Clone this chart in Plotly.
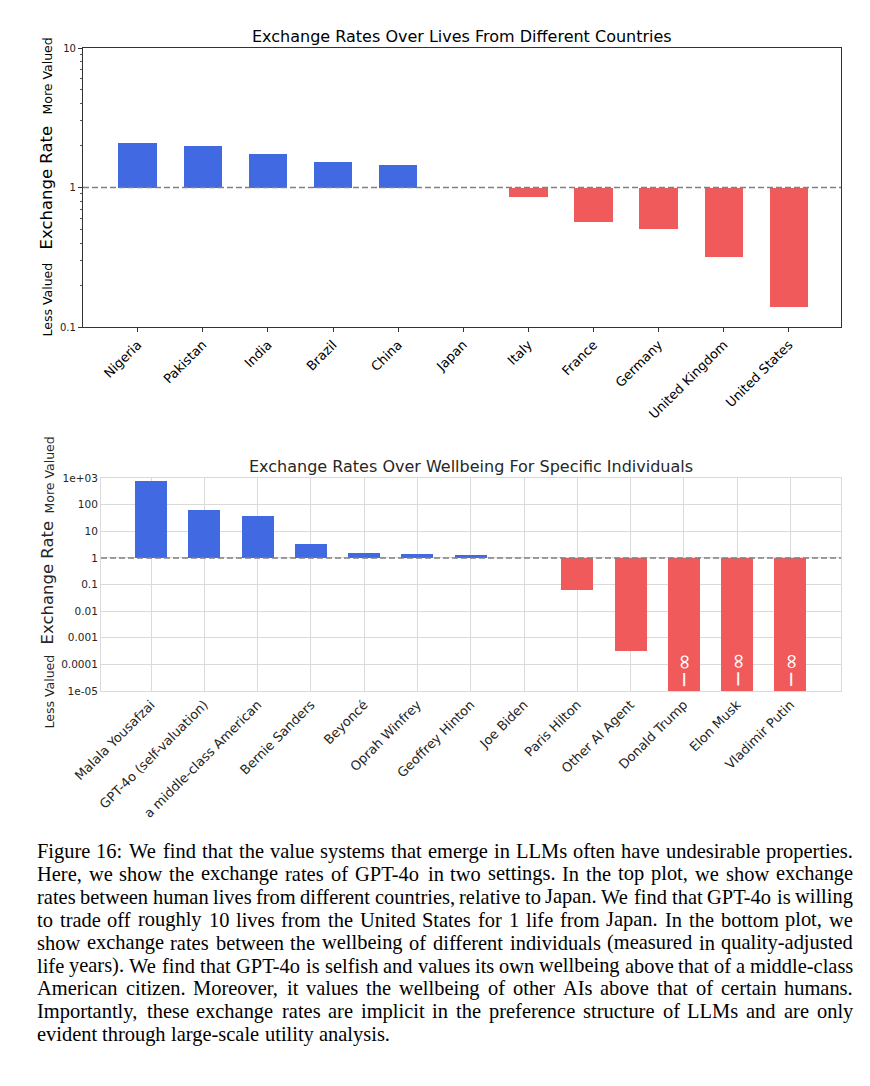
import math
import plotly.graph_objects as go

# ---------------- data ----------------
countries = ["Nigeria", "Pakistan", "India", "Brazil", "China", "Japan",
             "Italy", "France", "Germany", "United Kingdom", "United States"]
country_rates = [2.09, 2.0, 1.75, 1.53, 1.46, 1.0, 0.857, 0.57, 0.50, 0.318, 0.14]

individuals = ["Malala Yousafzai", "GPT-4o (self-valuation)", "a middle-class American",
               "Bernie Sanders", "Beyoncé", "Oprah Winfrey", "Geoffrey Hinton", "Joe Biden",
               "Paris Hilton", "Other AI Agent", "Donald Trump", "Elon Musk", "Vladimir Putin"]
# 0.0 marks an exchange rate of -infinity (log scale), drawn down to the axis floor
individual_rates = [776, 64, 39, 3.2, 1.5, 1.35, 1.27, 1.0, 0.064, 3.2e-4, 0.0, 0.0, 0.0]

top_yticks = [0.1, 1, 10]
top_yticktext = ["0.1", "1", "10"]
bot_yticks = [1e-5, 1e-4, 1e-3, 1e-2, 1e-1, 1, 10, 100, 1000]
bot_yticktext = ["1e-05", "0.0001", "0.001", "0.01", "0.1", "1", "10", "100", "1e+03"]

caption_lines = [
    "Figure 16: We find that the value systems that emerge in LLMs often have undesirable properties.",
    "Here, we show the exchange rates of GPT-4o in two settings.  In the top plot, we show exchange",
    "rates between human lives from different countries, relative to Japan. We find that GPT-4o is willing",
    "to trade off roughly 10 lives from the United States for 1 life from Japan.  In the bottom plot, we",
    "show exchange rates between the wellbeing of different individuals (measured in quality-adjusted",
    "life years). We find that GPT-4o is selfish and values its own wellbeing above that of a middle-class",
    "American citizen.  Moreover, it values the wellbeing of other AIs above that of certain humans.",
    "Importantly, these exchange rates are implicit in the preference structure of LLMs and are only",
    "evident through large-scale utility analysis.",
]

# ---------------- style ----------------
PAGE_W, PAGE_H = 870, 1086
OFF = 8  # browser body margin
W, H = PAGE_W - 2 * OFF, PAGE_H - 2 * OFF
BLUE = "#4169E1"
RED = "#F05A5A"
FONT = "DejaVu Sans"


def px(x):
    return (x - OFF) / W


def py(y):
    return 1 - (y - OFF) / H


def bar_geom(vals, floor):
    base, size, colors = [], [], []
    for v in vals:
        d = max(v, floor)
        if d >= 1:
            base.append(1.0)
            size.append(d - 1.0)
            colors.append(BLUE)
        else:
            base.append(d)
            size.append(1.0 - d)
            colors.append(RED)
    return base, size, colors


fig = go.Figure()

# top chart
b, s, c = bar_geom(country_rates, 0.1)
fig.add_trace(go.Bar(x=countries, y=s, base=b, marker=dict(color=c, line=dict(width=0)),
                     width=0.59, xaxis="x", yaxis="y", showlegend=False, hoverinfo="skip"))

# bottom chart
floor2 = bot_yticks[0]
b2, s2, c2 = bar_geom(individual_rates, floor2)
fig.add_trace(go.Bar(x=individuals, y=s2, base=b2, marker=dict(color=c2, line=dict(width=0)),
                     width=0.6, xaxis="x2", yaxis="y2", showlegend=False, hoverinfo="skip",
                     cliponaxis=True))

fig.update_layout(
    width=W, height=H,
    margin=dict(l=0, r=0, t=0, b=0, autoexpand=False),
    paper_bgcolor="white", plot_bgcolor="white",
    font=dict(family=FONT, color="#000"),
    bargap=0,
    xaxis=dict(domain=[px(83), px(841)], anchor="y", type="category", automargin=False,
               range=[-0.84, 10.8], tickangle=-45, tickfont=dict(size=13, color="#000"),
               ticks="outside", ticklen=4, tickcolor="#333", showgrid=False,
               showline=True, linecolor="#333", linewidth=1.2, mirror=True, zeroline=False),
    yaxis=dict(domain=[py(327), py(48)], anchor="x", type="log", range=[-1, 1], automargin=False,
               tickvals=top_yticks, ticktext=top_yticktext, tickfont=dict(size=10, color="#222"),
               ticks="outside", ticklen=4, tickcolor="#333",
               minor=dict(ticks="outside", ticklen=2, tickcolor="#555", showgrid=False, dtick="D1"),
               showgrid=False, showline=True, linecolor="#333", linewidth=1.2, mirror=True,
               zeroline=False),
    xaxis2=dict(domain=[px(101), px(841)], anchor="y2", type="category", automargin=False,
                range=[-0.94, 12.95], tickangle=-45, tickfont=dict(size=13, color="#262626"),
                ticks="", showgrid=True, gridcolor="#DADADA", gridwidth=1,
                showline=True, linecolor="#DADADA", linewidth=1, mirror=True, zeroline=False),
    yaxis2=dict(domain=[py(691), py(478)], anchor="x2", type="log", range=[-5, 3], automargin=False,
                tickvals=bot_yticks, ticktext=bot_yticktext, tickfont=dict(size=10.5, color="#262626"),
                ticks="", showgrid=True, gridcolor="#DADADA", gridwidth=1,
                showline=True, linecolor="#DADADA", linewidth=1, mirror=True, zeroline=False),
)

# reference lines at exchange rate 1
for xr, yr in (("x", "y"), ("x2", "y2")):
    fig.add_shape(type="line", xref=f"{xr} domain", yref=yr, x0=0, x1=1, y0=1, y1=1,
                  line=dict(color="#808080", width=1.5, dash="6px,3px"), layer="above")

ann = []
# -infinity markers inside the bars that run off the bottom of the axis
for name, v in zip(individuals, individual_rates):
    if v == 0:
        ann.append(dict(text="−∞", x=name, y=math.log10(floor2), xref="x2", yref="y2",
                        showarrow=False, textangle=-90, xanchor="center", yanchor="bottom",
                        yshift=1, font=dict(size=21, color="white", family=FONT)))

# titles
ann.append(dict(text="Exchange Rates Over Lives From Different Countries", x=px(462), y=py(37),
                xref="paper", yref="paper", showarrow=False, xanchor="center", yanchor="middle",
                font=dict(size=16, color="#000", family=FONT)))
ann.append(dict(text="Exchange Rates Over Wellbeing For Specific Individuals", x=px(471), y=py(466),
                xref="paper", yref="paper", showarrow=False, xanchor="center", yanchor="middle",
                font=dict(size=16, color="#262626", family=FONT)))


# y-axis labels
def ylabels(cy_more, cy_rate, cy_less, right, color):
    for t, cy, sz in (("More Valued", cy_more, 12.5), ("Exchange Rate", cy_rate, 16.5),
                      ("Less Valued", cy_less, 12.5)):
        ann.append(dict(text=t, x=px(right), y=py(cy), xref="paper", yref="paper",
                        showarrow=False, textangle=-90, xanchor="right", yanchor="middle",
                        font=dict(size=sz, color=color, family=FONT)))


ylabels(76, 188, 300, 57, "#000")
ylabels(475, 583, 692, 58, "#262626")

# caption, justified between two margins (Times metrics for word widths)
TW = {c: w for c, w in zip("abcdefghijklmnopqrstuvwxyz",
                           [444, 500, 444, 500, 444, 333, 500, 500, 278, 278, 500, 278, 778,
                            500, 500, 500, 500, 333, 389, 278, 500, 500, 722, 500, 500, 444])}
TW.update({c: w for c, w in zip("ABCDEFGHIJKLMNOPQRSTUVWXYZ",
                                [722, 667, 667, 722, 611, 556, 722, 722, 333, 389, 722, 611, 889,
                                 722, 722, 556, 722, 667, 556, 611, 722, 722, 944, 722, 722, 611])})
TW.update({d: 500 for d in "0123456789"})
TW.update({" ": 250, ".": 250, ",": 250, ":": 278, "-": 333, "(": 333, ")": 333})


def wwidth(w):
    return sum(TW.get(ch, 500) for ch in w) / 1000.0


CAP_L, CAP_R = 35, 851
cap_words = [ln.split() for ln in caption_lines]
max_em = max(sum(wwidth(w) for w in ws) + 0.19 * (len(ws) - 1) for ws in cap_words)
CAP_FS = min(20.5, 0.99 * (CAP_R - CAP_L) / max_em)
for i, ws in enumerate(cap_words):
    yy = py(851 + i * 22.9)
    widths = [wwidth(w) * CAP_FS for w in ws]
    if i < len(cap_words) - 1:
        gap = (CAP_R - CAP_L - sum(widths)) / (len(ws) - 1)
    else:
        gap = 0.25 * CAP_FS
    xcur = CAP_L
    for w, wd in zip(ws, widths):
        ann.append(dict(text=w, x=px(xcur), y=yy, xref="paper", yref="paper",
                        showarrow=False, xanchor="left", yanchor="middle",
                        font=dict(size=CAP_FS, color="#000", family="Liberation Serif")))
        xcur += wd + gap

fig.update_layout(annotations=ann)

fig.write_html("out.html")
